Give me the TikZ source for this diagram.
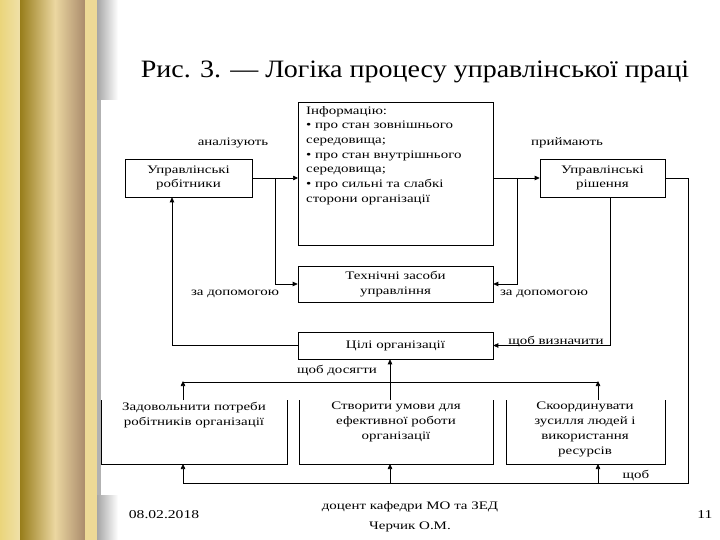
\documentclass[tikz,border=0pt]{standalone}
\usepackage{fontspec}
\setmainfont{Liberation Serif}
\newfontfamily\wide{Liberation Serif}[FakeStretch=1.3]
\newfontfamily\titlef{Liberation Serif}[FakeStretch=1.12]
\usetikzlibrary{arrows.meta}
\begin{document}
\begin{tikzpicture}[x=1pt,y=-1pt,
  bx/.style={draw,line width=0.6pt,inner sep=0pt,align=center,font=\wide\fontsize{11.5}{14.5}\selectfont},
  lbl/.style={inner sep=1pt,font=\wide\fontsize{11.5}{13}\selectfont},
  ln/.style={line width=0.7pt},
  ar/.style={line width=0.7pt,-{Triangle[length=5pt,width=4.5pt]}}]
\useasboundingbox (0,0) rectangle (720,540);
\fill[white] (0,0) rectangle (720,540);
% decorative pillar
\shade[left color=yellow!45!brown!60,right color=yellow!40!brown!40] (0,0) rectangle (20,540);
\shade[left color=brown!60!yellow!70!black,right color=yellow!30!brown!45] (20,0) rectangle (55,540);
\shade[left color=yellow!30!brown!45,right color=brown!70!black!70] (55,0) rectangle (85,540);
\fill[yellow!40!brown!50] (85,0) rectangle (97,540);
\shade[left color=gray!70,right color=white] (97,0) rectangle (118,100);
\shade[left color=gray!70,right color=white] (97,495) rectangle (118,540);
\fill[gray!60] (97,100) rectangle (101,495);
% title
\node[font=\titlef\fontsize{25}{28}\selectfont] (title) at (415,72) {Рис. 3. — Логіка процесу управлінської праці};
% boxes
\node[bx,minimum width=127pt,minimum height=38pt] (rob) at (188.5,178) {Управлінські\\робітники};
\node[bx,minimum width=195pt,minimum height=143pt] (info) at (395.5,173.5) {};
\node[anchor=north west,align=left,inner sep=0pt,font=\wide\fontsize{11.5}{14.7}\selectfont] (infot) at (306,106) {Інформацію:\\\textbullet{} про стан зовнішнього\\середовища;\\\textbullet{} про стан внутрішнього\\середовища;\\\textbullet{} про сильні та слабкі\\сторони організації};
\node[bx,minimum width=125pt,minimum height=38pt] (rish) at (602.5,178) {Управлінські\\рішення};
\node[bx,minimum width=195pt,minimum height=36pt] (tech) at (395.5,284) {Технічні засоби\\управління};
\node[bx,minimum width=195pt,minimum height=27pt] (goal) at (395.5,345.5) {Цілі організації};
% bottom open boxes
\draw[ln] (101,400) -- (101,464) -- (287,464) -- (287,400);
\draw[ln] (299,400) -- (299,464) -- (493,464) -- (493,400);
\draw[ln] (506,400) -- (506,464) -- (665,464) -- (665,400);
\node[align=center,inner sep=0pt,font=\wide\fontsize{11.5}{15}\selectfont,anchor=north] (b1) at (194,402) {Задовольнити потреби\\робітників організації};
\node[align=center,inner sep=0pt,font=\wide\fontsize{11.5}{15}\selectfont,anchor=north] (b2) at (396,402) {Створити умови для\\ефективної роботи\\організації};
\node[align=center,inner sep=0pt,font=\wide\fontsize{11.5}{15}\selectfont,anchor=north] (b3) at (585,402) {Скоординувати\\зусилля людей і\\використання\\ресурсів};
\coordinate (b1t) at (183,400); \coordinate (b2t) at (390,400); \coordinate (b3t) at (598,400);
\coordinate (b1b) at (183,464); \coordinate (b2b) at (390,464); \coordinate (b3b) at (598,464);
\coordinate (infoL) at (298,178); \coordinate (infoR) at (493,178);
% labels
\node[lbl] (l1) at (233,143) {аналізують};
\node[lbl] (l2) at (567,143) {приймають};
\node[lbl] (l3) at (235,294) {за допомогою};
\node[lbl] (l4) at (544,294) {за допомогою};
\node[lbl] (l5) at (556,342) {щоб визначити};
\node[lbl] (l6) at (337,371) {щоб досягти};
\node[lbl] (l7) at (636,476) {щоб};
% connectors top
\draw[ar] (rob.east) -- (infoL);
\draw[ar] (275,178) |- (tech.west);
\draw[ar] (infoR) -- (rish.west);
\draw[ar] (517,178) |- (tech.east);
\draw[ln] (rish.east) -- (688,178) -- (688,483) -- (183,483);
\draw[ar] (rish.south -| 610,0) |- (goal.east);
\draw[ar] (goal.west) -| (rob.south -| 172,0);
% middle
\draw[ln] (183,382) -- (598,382);
\draw[ar] (b1t) -- (183,381);
\draw[ar] (b3t) -- (598,381);
\draw[ar] (b2t) -- (goal.south -| b2t);
% bottom
\draw[ar] (183,483) -- (b1b);
\draw[ar] (390,483) -- (b2b);
\draw[ar] (598,483) -- (b3b);
% footer
\node[font=\wide\fontsize{12}{13}\selectfont] (date) at (164,515) {08.02.2018};
\node[align=center,font=\wide\fontsize{11.5}{20}\selectfont] (auth) at (410,517) {доцент кафедри МО та ЗЕД\\Черчик О.М.};
\node[font=\wide\fontsize{12}{13}\selectfont] (pg) at (705,515) {11};
\end{tikzpicture}
\end{document}
